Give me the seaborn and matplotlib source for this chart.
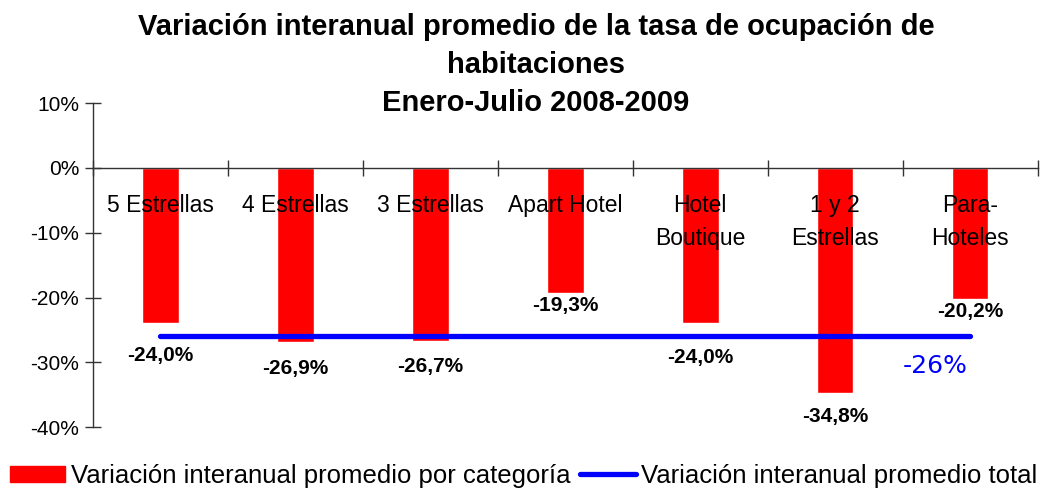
"""
plot.py - Variación interanual de la tasa de ocupación de habitaciones
"""

import pandas as pd
import matplotlib.pyplot as plt
import matplotlib.ticker as mticker
from matplotlib.patches import Patch
from matplotlib.lines import Line2D
import seaborn as sns

# Data
categorias = ['5 Estrellas', '4 Estrellas', '3 Estrellas', 'Apart Hotel',
              'Hotel\nBoutique', '1 y 2\nEstrellas', 'Para-\nHoteles']
variacion = [-24.0, -26.9, -26.7, -19.3, -24.0, -34.8, -20.2]
variacion_total = -26.0
y_ticks = [10, 0, -10, -20, -30, -40]

# label nudges (style only, in % units below the bar end)
label_offsets = [-5.0, -4.0, -4.0, -2.0, -5.3, -3.5, -2.0]

sns.set_theme(style='white')
plt.rcParams['font.family'] = ['Liberation Sans', 'DejaVu Sans']
plt.rcParams['text.color'] = 'black'
plt.rcParams['xtick.color'] = '#333333'
plt.rcParams['ytick.color'] = '#333333'
plt.rcParams['xtick.labelcolor'] = 'black'
plt.rcParams['ytick.labelcolor'] = 'black'

df = pd.DataFrame({'categoria': categorias, 'variacion': variacion})

fig = plt.figure(figsize=(10.45, 4.91), dpi=100)
ax = fig.add_axes([0.089, 0.130, 0.904, 0.660])

sns.barplot(data=df, x='categoria', y='variacion', color='#ff0000',
            saturation=1, width=0.27, ax=ax)

# total average line across categories
pos = list(range(len(categorias)))
sns.lineplot(x=pos, y=[variacion_total] * len(pos), color='#0000ff',
             linewidth=3.8, ax=ax, solid_capstyle='round')

ax.set_xlim(-0.5, len(categorias) - 0.5)
ax.set_ylim(-40, 10)
ax.set_yticks(y_ticks)
ax.yaxis.set_major_formatter(mticker.FuncFormatter(lambda v, _: f'{int(v)}%'))

# category boundaries as ticks, names drawn as text over the bars
ax.set_xticks([p - 0.5 for p in pos] + [len(pos) - 0.5])
ax.set_xticklabels([])
ax.tick_params(axis='x', which='major', bottom=True, direction='inout',
               length=12, width=1)
ax.tick_params(axis='y', left=True, direction='inout', length=12, width=1,
               labelsize=15, pad=4)
ax.set_xlabel('')
ax.set_ylabel('')

for side in ['top', 'right']:
    ax.spines[side].set_visible(False)
ax.spines['bottom'].set_position(('data', 0))
for side in ['left', 'bottom']:
    ax.spines[side].set_color('#333333')
    ax.spines[side].set_linewidth(1)

for p, name in zip(pos, categorias):
    ax.text(p, -4.0, name, ha='center', va='top', fontsize=16.5,
            linespacing=1.55, zorder=5)

for p, v, off in zip(pos, variacion, label_offsets):
    ax.text(p, v + off, f'{v:.1f}%'.replace('.', ','), ha='center',
            va='center', fontsize=15, fontweight='bold')

ax.text(5.74, -30.6, f'{variacion_total:.0f}%', ha='center', va='center',
        fontsize=18, color='#0000ff', family=['DejaVu Sans'])

fig.text(0.513, 0.868,
         'Variación interanual promedio de la tasa de ocupación de\n'
         'habitaciones\nEnero-Julio 2008-2009',
         ha='center', va='center', fontsize=21, fontweight='bold',
         linespacing=1.45)

handles = [Patch(color='#ff0000'),
           Line2D([0], [0], color='#0000ff', linewidth=3.8)]
fig.legend(handles, ['Variación interanual promedio por categoría',
                     'Variación interanual promedio total'],
           loc='center', bbox_to_anchor=(0.501, 0.031), ncol=2,
           frameon=False, fontsize=18.5, handlelength=2.15,
           handletextpad=0.2, columnspacing=0.4, borderpad=0,
           handleheight=0.6)

fig.savefig('out.png', dpi=100)
